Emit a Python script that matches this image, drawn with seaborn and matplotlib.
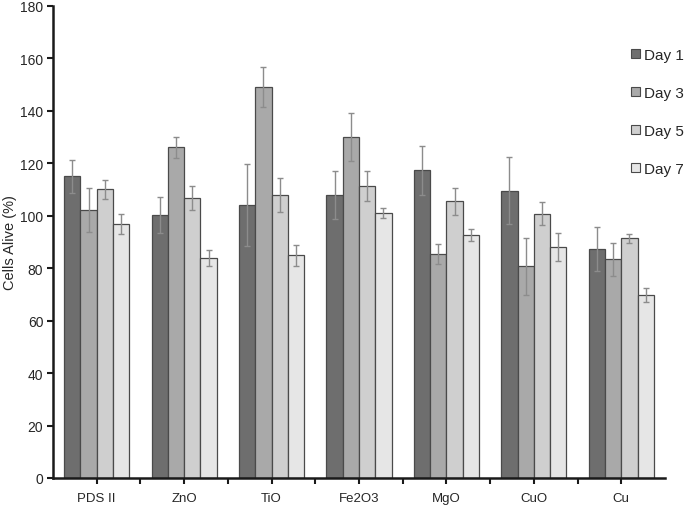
import numpy as np
import pandas as pd
import matplotlib
matplotlib.use("Agg")
import matplotlib.pyplot as plt
import seaborn as sns
from matplotlib.ticker import FixedLocator
from matplotlib.patches import Patch

categories = ["PDS II", "ZnO", "TiO", "Fe2O3", "MgO", "CuO", "Cu"]
days = ["Day 1", "Day 3", "Day 5", "Day 7"]
day1 = [115.0, 100.4, 104.1, 107.9, 117.3, 109.6, 87.4]
day3 = [102.2, 126.1, 149.1, 130.0, 85.5, 80.7, 83.5]
day5 = [110.1, 106.8, 108.0, 111.3, 105.5, 100.8, 91.5]
day7 = [96.8, 83.8, 84.9, 101.0, 92.6, 88.0, 69.9]
err1 = [6.4, 6.9, 15.8, 9.2, 9.3, 12.7, 8.5]
err3 = [8.5, 4.1, 7.5, 9.1, 3.8, 10.8, 6.3]
err5 = [3.6, 4.7, 6.4, 5.6, 5.2, 4.4, 1.7]
err7 = [3.7, 3.0, 4.0, 1.8, 2.4, 5.3, 2.7]
colors = ["#6e6e6e", "#a9a9a9", "#cfcfcf", "#e6e6e6"]

vals = [day1, day3, day5, day7]
errs = [err1, err3, err5, err7]
df = pd.DataFrame({
    "Material": np.tile(categories, len(days)),
    "Day": np.repeat(days, len(categories)),
    "Value": np.concatenate(vals),
})

sns.set_style("white")
plt.rcParams["font.family"] = ["Liberation Sans", "DejaVu Sans"]

fig = plt.figure(figsize=(6.85, 5.06), dpi=100)
ax = fig.add_axes([53/685, 27/506, (665-53)/685, (479-7)/506])

sns.barplot(data=df, x="Material", y="Value", hue="Day", order=categories,
            hue_order=days, palette=colors, errorbar=None, width=0.745,
            dodge=True, gap=0, edgecolor="#4a4a4a", linewidth=0.9,
            saturation=1, ax=ax, legend=False)

for cont, e in zip(ax.containers, errs):
    xs = [b.get_x() + b.get_width()/2 for b in cont]
    ys = [b.get_height() for b in cont]
    ax.errorbar(xs, ys, yerr=e, fmt="none", ecolor="#8c8c8c", elinewidth=1,
                capsize=2.2, capthick=1, zorder=5)

ax.set_ylim(0, 180)
ax.set_xlim(-0.5, len(categories) - 0.5)
ax.set_yticks(np.arange(0, 181, 20))
ax.set_xlabel("")
ax.set_ylabel("Cells Alive (%)", fontsize=10.5)
ax.yaxis.set_label_coords(-36/612, 0.5)
for s in ["top", "right"]:
    ax.spines[s].set_visible(False)
for s in ["left", "bottom"]:
    ax.spines[s].set_color("#1a1a1a")
    ax.spines[s].set_linewidth(1.8)
ax.xaxis.set_minor_locator(FixedLocator(np.arange(0.5, len(categories) - 0.5, 1)))
ax.tick_params(axis="x", which="both", direction="out", length=4, width=1.5,
               color="#1a1a1a", labelsize=9.5, pad=6, bottom=True)
ax.tick_params(axis="y", direction="out", length=4, width=1.5, color="#1a1a1a",
               labelsize=10, left=True, pad=3)

handles = [Patch(facecolor=c, edgecolor="#4a4a4a", linewidth=0.8, label=d)
           for c, d in zip(colors, days)]
fig.legend(handles=handles, loc="upper left", bbox_to_anchor=(625/685, 1 - 43/506),
           frameon=False, fontsize=11, handlelength=0.55, handleheight=0.55,
           handletextpad=0.3, labelspacing=1.56, borderaxespad=0)

fig.savefig("out.png", dpi=100)
